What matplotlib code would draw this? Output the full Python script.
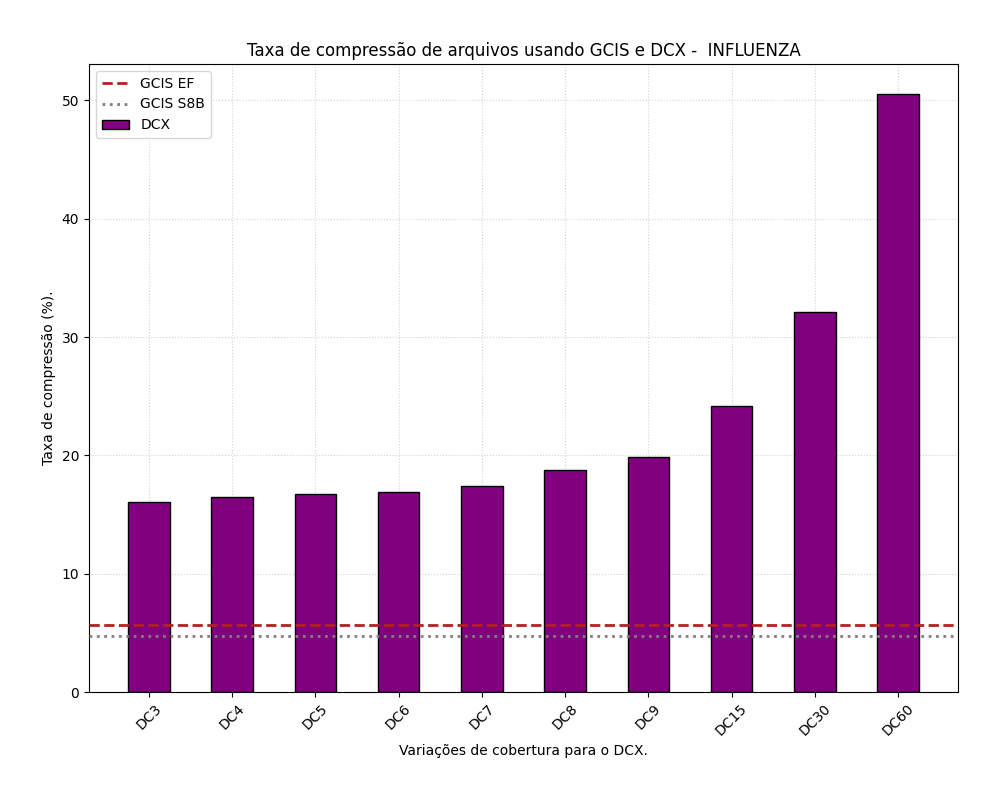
import matplotlib
matplotlib.use('Agg')
import matplotlib.pyplot as plt

categorias = ['DC3', 'DC4', 'DC5', 'DC6', 'DC7', 'DC8', 'DC9', 'DC15', 'DC30', 'DC60']
taxas_dcx = [16.05, 16.45, 16.7, 16.9, 17.4, 18.8, 19.85, 24.2, 32.1, 50.55]
gcis_ef = 5.66
gcis_s8b = 4.73

fig, ax = plt.subplots(figsize=(10, 8))
fig.subplots_adjust(left=0.089, right=0.958, top=0.92, bottom=0.135)

x = range(len(categorias))
ax.bar(x, taxas_dcx, width=0.5, color='purple', edgecolor='black', label='DCX', zorder=2)
ax.axhline(gcis_ef, color='firebrick', linestyle='--', linewidth=2, label='GCIS EF', zorder=3)
ax.axhline(gcis_s8b, color='gray', linestyle=':', linewidth=2, label='GCIS S8B', zorder=3)

ax.set_xticks(list(x))
ax.set_xticklabels(categorias, rotation=45)
ax.set_xlim(-0.72, 9.72)
ax.grid(True, linestyle=':', color='lightgray', zorder=2.5)
ax.set_title('Taxa de compressão de arquivos usando GCIS e DCX -  INFLUENZA', fontsize=12)
ax.set_xlabel('Variações de cobertura para o DCX.')
ax.set_ylabel('Taxa de compressão (%).')
ax.legend(loc='upper left')

plt.savefig('out.png', dpi=100)
